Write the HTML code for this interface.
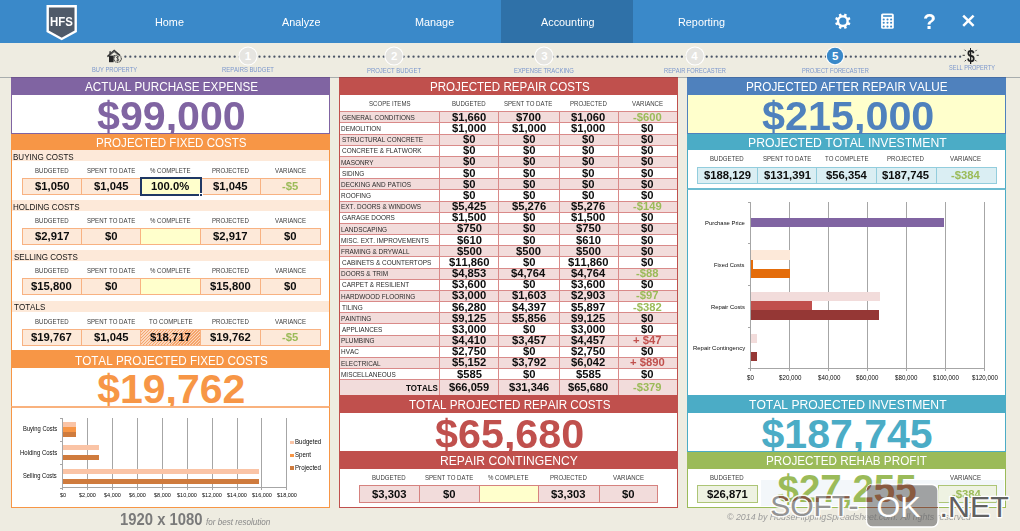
<!DOCTYPE html>
<html lang="en"><head><meta charset="utf-8"><title>House Flipping Spreadsheet - Project Forecaster</title><style>
*{margin:0;padding:0;box-sizing:border-box}
html,body{width:1020px;height:531px;overflow:hidden}
body{background:#EEECE1;font-family:"Liberation Sans",sans-serif;position:relative}
.a{position:absolute}
.x{position:absolute;white-space:nowrap;font-kerning:none;transform-origin:0 0}
</style></head><body>

<div class="a" style="left:0px;top:0px;width:1020px;height:43px;background:#3A89C9"></div>
<div class="a" style="left:501px;top:0px;width:132px;height:43px;background:#2F71A8"></div>
<svg class="a" style="left:45px;top:4px" width="34" height="37" viewBox="0 0 34 37">
<path d="M2.7 2.3 H30.7 V27.3 L16.7 35 L2.7 27.3 Z" fill="#4F5A69" stroke="#fff" stroke-width="2.4" stroke-linejoin="miter"/></svg>
<div class="x" style="left:50.04px;top:15px;font-size:13.5px;line-height:13.5px;color:#fff;font-weight:bold;transform:scaleX(0.8448);">HFS</div>
<div class="x" style="left:154.55px;top:17px;font-size:11px;line-height:11px;color:#fff;transform:scaleX(0.9850);">Home</div>
<div class="x" style="left:282.46px;top:17px;font-size:11px;line-height:11px;color:#fff;transform:scaleX(0.9850);">Analyze</div>
<div class="x" style="left:414.92px;top:17px;font-size:11px;line-height:11px;color:#fff;transform:scaleX(0.9850);">Manage</div>
<div class="x" style="left:540.93px;top:17px;font-size:11px;line-height:11px;color:#fff;transform:scaleX(0.9850);">Accounting</div>
<div class="x" style="left:677.61px;top:17px;font-size:11px;line-height:11px;color:#fff;transform:scaleX(0.9850);">Reporting</div>
<svg class="a" style="left:833px;top:11px" width="20" height="20" viewBox="0 0 20 20"><path d="M9.80 4.20 L10.84 4.29 L11.64 2.52 L13.93 3.46 L13.24 5.29 L14.04 5.96 L14.71 6.76 L16.54 6.07 L17.48 8.36 L15.71 9.16 L15.80 10.20 L15.71 11.24 L17.48 12.04 L16.54 14.33 L14.71 13.64 L14.04 14.44 L13.24 15.11 L13.93 16.94 L11.64 17.88 L10.84 16.11 L9.80 16.20 L8.76 16.11 L7.96 17.88 L5.67 16.94 L6.36 15.11 L5.56 14.44 L4.89 13.64 L3.06 14.33 L2.12 12.04 L3.89 11.24 L3.80 10.20 L3.89 9.16 L2.12 8.36 L3.06 6.07 L4.89 6.76 L5.56 5.96 L6.36 5.29 L5.67 3.46 L7.96 2.52 L8.76 4.29 Z M13.40 10.2 A3.6 3.6 0 1 0 6.20 10.2 A3.6 3.6 0 1 0 13.40 10.2 Z" fill="#fff" fill-rule="evenodd"/></svg>
<svg class="a" style="left:881px;top:13px" width="13" height="16" viewBox="0 0 13 16"><rect x="0.1" y="0.4" width="12.7" height="15.4" rx="1.6" fill="#fff"/><rect x="2.1" y="2.2" width="8.8" height="1.6" fill="#3A89C9"/><circle cx="2.7" cy="6.5" r="1.05" fill="#3A89C9"/><circle cx="2.7" cy="9.8" r="1.05" fill="#3A89C9"/><circle cx="2.7" cy="13.5" r="1.05" fill="#3A89C9"/><circle cx="6.5" cy="6.5" r="1.05" fill="#3A89C9"/><circle cx="6.5" cy="9.8" r="1.05" fill="#3A89C9"/><circle cx="6.5" cy="13.5" r="1.05" fill="#3A89C9"/><circle cx="10.1" cy="6.5" r="1.05" fill="#3A89C9"/><circle cx="10.1" cy="9.8" r="1.05" fill="#3A89C9"/><circle cx="10.1" cy="13.5" r="1.05" fill="#3A89C9"/></svg>
<div class="x" style="left:923.02px;top:11px;font-size:22px;line-height:22px;color:#fff;font-weight:bold;transform:scaleX(0.9676);">?</div>
<svg class="a" style="left:961px;top:13px" width="15" height="15" viewBox="0 0 15 15"><path d="M2.2 2.6 L12.6 12.8 M12.6 2.6 L2.2 12.8" stroke="#fff" stroke-width="2.5"/></svg>
<svg class="a" style="left:0;top:0" width="1020" height="78"><g fill="#4A5466"><circle cx="125.35" cy="56.7" r="1.15"/><circle cx="130.32" cy="56.7" r="1.15"/><circle cx="135.29" cy="56.7" r="1.15"/><circle cx="140.26" cy="56.7" r="1.15"/><circle cx="145.23" cy="56.7" r="1.15"/><circle cx="150.19" cy="56.7" r="1.15"/><circle cx="155.16" cy="56.7" r="1.15"/><circle cx="160.13" cy="56.7" r="1.15"/><circle cx="165.10" cy="56.7" r="1.15"/><circle cx="170.07" cy="56.7" r="1.15"/><circle cx="175.04" cy="56.7" r="1.15"/><circle cx="180.01" cy="56.7" r="1.15"/><circle cx="184.98" cy="56.7" r="1.15"/><circle cx="189.95" cy="56.7" r="1.15"/><circle cx="194.92" cy="56.7" r="1.15"/><circle cx="199.88" cy="56.7" r="1.15"/><circle cx="204.85" cy="56.7" r="1.15"/><circle cx="209.82" cy="56.7" r="1.15"/><circle cx="214.79" cy="56.7" r="1.15"/><circle cx="219.76" cy="56.7" r="1.15"/><circle cx="224.73" cy="56.7" r="1.15"/><circle cx="229.70" cy="56.7" r="1.15"/><circle cx="234.67" cy="56.7" r="1.15"/><circle cx="239.64" cy="56.7" r="1.15"/><circle cx="244.61" cy="56.7" r="1.15"/><circle cx="249.57" cy="56.7" r="1.15"/><circle cx="254.54" cy="56.7" r="1.15"/><circle cx="259.51" cy="56.7" r="1.15"/><circle cx="264.48" cy="56.7" r="1.15"/><circle cx="269.45" cy="56.7" r="1.15"/><circle cx="274.42" cy="56.7" r="1.15"/><circle cx="279.39" cy="56.7" r="1.15"/><circle cx="284.36" cy="56.7" r="1.15"/><circle cx="289.33" cy="56.7" r="1.15"/><circle cx="294.30" cy="56.7" r="1.15"/><circle cx="299.26" cy="56.7" r="1.15"/><circle cx="304.23" cy="56.7" r="1.15"/><circle cx="309.20" cy="56.7" r="1.15"/><circle cx="314.17" cy="56.7" r="1.15"/><circle cx="319.14" cy="56.7" r="1.15"/><circle cx="324.11" cy="56.7" r="1.15"/><circle cx="329.08" cy="56.7" r="1.15"/><circle cx="334.05" cy="56.7" r="1.15"/><circle cx="339.02" cy="56.7" r="1.15"/><circle cx="343.99" cy="56.7" r="1.15"/><circle cx="348.95" cy="56.7" r="1.15"/><circle cx="353.92" cy="56.7" r="1.15"/><circle cx="358.89" cy="56.7" r="1.15"/><circle cx="363.86" cy="56.7" r="1.15"/><circle cx="368.83" cy="56.7" r="1.15"/><circle cx="373.80" cy="56.7" r="1.15"/><circle cx="378.77" cy="56.7" r="1.15"/><circle cx="383.74" cy="56.7" r="1.15"/><circle cx="388.71" cy="56.7" r="1.15"/><circle cx="393.68" cy="56.7" r="1.15"/><circle cx="398.64" cy="56.7" r="1.15"/><circle cx="403.61" cy="56.7" r="1.15"/><circle cx="408.58" cy="56.7" r="1.15"/><circle cx="413.55" cy="56.7" r="1.15"/><circle cx="418.52" cy="56.7" r="1.15"/><circle cx="423.49" cy="56.7" r="1.15"/><circle cx="428.46" cy="56.7" r="1.15"/><circle cx="433.43" cy="56.7" r="1.15"/><circle cx="438.40" cy="56.7" r="1.15"/><circle cx="443.37" cy="56.7" r="1.15"/><circle cx="448.33" cy="56.7" r="1.15"/><circle cx="453.30" cy="56.7" r="1.15"/><circle cx="458.27" cy="56.7" r="1.15"/><circle cx="463.24" cy="56.7" r="1.15"/><circle cx="468.21" cy="56.7" r="1.15"/><circle cx="473.18" cy="56.7" r="1.15"/><circle cx="478.15" cy="56.7" r="1.15"/><circle cx="483.12" cy="56.7" r="1.15"/><circle cx="488.09" cy="56.7" r="1.15"/><circle cx="493.06" cy="56.7" r="1.15"/><circle cx="498.02" cy="56.7" r="1.15"/><circle cx="502.99" cy="56.7" r="1.15"/><circle cx="507.96" cy="56.7" r="1.15"/><circle cx="512.93" cy="56.7" r="1.15"/><circle cx="517.90" cy="56.7" r="1.15"/><circle cx="522.87" cy="56.7" r="1.15"/><circle cx="527.84" cy="56.7" r="1.15"/><circle cx="532.81" cy="56.7" r="1.15"/><circle cx="537.78" cy="56.7" r="1.15"/><circle cx="542.75" cy="56.7" r="1.15"/><circle cx="547.71" cy="56.7" r="1.15"/><circle cx="552.68" cy="56.7" r="1.15"/><circle cx="557.65" cy="56.7" r="1.15"/><circle cx="562.62" cy="56.7" r="1.15"/><circle cx="567.59" cy="56.7" r="1.15"/><circle cx="572.56" cy="56.7" r="1.15"/><circle cx="577.53" cy="56.7" r="1.15"/><circle cx="582.50" cy="56.7" r="1.15"/><circle cx="587.47" cy="56.7" r="1.15"/><circle cx="592.44" cy="56.7" r="1.15"/><circle cx="597.41" cy="56.7" r="1.15"/><circle cx="602.37" cy="56.7" r="1.15"/><circle cx="607.34" cy="56.7" r="1.15"/><circle cx="612.31" cy="56.7" r="1.15"/><circle cx="617.28" cy="56.7" r="1.15"/><circle cx="622.25" cy="56.7" r="1.15"/><circle cx="627.22" cy="56.7" r="1.15"/><circle cx="632.19" cy="56.7" r="1.15"/><circle cx="637.16" cy="56.7" r="1.15"/><circle cx="642.13" cy="56.7" r="1.15"/><circle cx="647.10" cy="56.7" r="1.15"/><circle cx="652.06" cy="56.7" r="1.15"/><circle cx="657.03" cy="56.7" r="1.15"/><circle cx="662.00" cy="56.7" r="1.15"/><circle cx="666.97" cy="56.7" r="1.15"/><circle cx="671.94" cy="56.7" r="1.15"/><circle cx="676.91" cy="56.7" r="1.15"/><circle cx="681.88" cy="56.7" r="1.15"/><circle cx="686.85" cy="56.7" r="1.15"/><circle cx="691.82" cy="56.7" r="1.15"/><circle cx="696.79" cy="56.7" r="1.15"/><circle cx="701.75" cy="56.7" r="1.15"/><circle cx="706.72" cy="56.7" r="1.15"/><circle cx="711.69" cy="56.7" r="1.15"/><circle cx="716.66" cy="56.7" r="1.15"/><circle cx="721.63" cy="56.7" r="1.15"/><circle cx="726.60" cy="56.7" r="1.15"/><circle cx="731.57" cy="56.7" r="1.15"/><circle cx="736.54" cy="56.7" r="1.15"/><circle cx="741.51" cy="56.7" r="1.15"/><circle cx="746.48" cy="56.7" r="1.15"/><circle cx="751.44" cy="56.7" r="1.15"/><circle cx="756.41" cy="56.7" r="1.15"/><circle cx="761.38" cy="56.7" r="1.15"/><circle cx="766.35" cy="56.7" r="1.15"/><circle cx="771.32" cy="56.7" r="1.15"/><circle cx="776.29" cy="56.7" r="1.15"/><circle cx="781.26" cy="56.7" r="1.15"/><circle cx="786.23" cy="56.7" r="1.15"/><circle cx="791.20" cy="56.7" r="1.15"/><circle cx="796.17" cy="56.7" r="1.15"/><circle cx="801.13" cy="56.7" r="1.15"/><circle cx="806.10" cy="56.7" r="1.15"/><circle cx="811.07" cy="56.7" r="1.15"/><circle cx="816.04" cy="56.7" r="1.15"/><circle cx="821.01" cy="56.7" r="1.15"/><circle cx="825.98" cy="56.7" r="1.15"/><circle cx="830.95" cy="56.7" r="1.15"/><circle cx="835.92" cy="56.7" r="1.15"/><circle cx="840.89" cy="56.7" r="1.15"/><circle cx="845.86" cy="56.7" r="1.15"/><circle cx="850.82" cy="56.7" r="1.15"/><circle cx="855.79" cy="56.7" r="1.15"/><circle cx="860.76" cy="56.7" r="1.15"/><circle cx="865.73" cy="56.7" r="1.15"/><circle cx="870.70" cy="56.7" r="1.15"/><circle cx="875.67" cy="56.7" r="1.15"/><circle cx="880.64" cy="56.7" r="1.15"/><circle cx="885.61" cy="56.7" r="1.15"/><circle cx="890.58" cy="56.7" r="1.15"/><circle cx="895.55" cy="56.7" r="1.15"/><circle cx="900.51" cy="56.7" r="1.15"/><circle cx="905.48" cy="56.7" r="1.15"/><circle cx="910.45" cy="56.7" r="1.15"/><circle cx="915.42" cy="56.7" r="1.15"/><circle cx="920.39" cy="56.7" r="1.15"/><circle cx="925.36" cy="56.7" r="1.15"/><circle cx="930.33" cy="56.7" r="1.15"/><circle cx="935.30" cy="56.7" r="1.15"/><circle cx="940.27" cy="56.7" r="1.15"/><circle cx="945.24" cy="56.7" r="1.15"/><circle cx="950.20" cy="56.7" r="1.15"/><circle cx="955.17" cy="56.7" r="1.15"/><circle cx="960.14" cy="56.7" r="1.15"/></g></svg>
<svg class="a" style="left:106px;top:49px" width="17" height="15" viewBox="0 0 17 15">
<path d="M1.4 7.6 L8.2 1.6 L13.8 6.4" stroke="#333" stroke-width="1.5" fill="none"/>
<path d="M3.2 6.6 L8.2 2.4 L10.5 4.4" stroke="#555" stroke-width="1.2" fill="none"/>
<rect x="3.4" y="2.2" width="1.4" height="3" fill="#333"/>
<rect x="3" y="6.6" width="4.6" height="6.6" fill="#262626"/>
<rect x="7.6" y="6.2" width="1.6" height="5" fill="#444"/>
<circle cx="11.6" cy="9.6" r="3.7" fill="#EEECE1" stroke="#3c3c3c" stroke-width="1.1" stroke-dasharray="1.2 0.5"/>
<path d="M12.9 8 Q11.8 7.2 10.7 8 Q10.3 9.1 11.7 9.6 Q13.2 10.2 12.7 11.3 Q11.6 12 10.4 11.2 M11.7 6.8 V12.4" stroke="#333" stroke-width="0.8" fill="none"/>
</svg>
<svg class="a" style="left:238.20px;top:45.80px" width="20" height="20" viewBox="0 0 20 20"><circle cx="10" cy="10" r="9.6" fill="#fff"/><circle cx="10" cy="10" r="8.6" fill="#E6E5E1"/></svg>
<div class="x" style="left:244.80px;top:51px;font-size:11.5px;line-height:11.5px;color:#fff;font-weight:bold;">1</div>
<svg class="a" style="left:384.10px;top:45.80px" width="20" height="20" viewBox="0 0 20 20"><circle cx="10" cy="10" r="9.6" fill="#fff"/><circle cx="10" cy="10" r="8.6" fill="#E6E5E1"/></svg>
<div class="x" style="left:390.93px;top:51px;font-size:11.5px;line-height:11.5px;color:#fff;font-weight:bold;">2</div>
<svg class="a" style="left:534.40px;top:45.80px" width="20" height="20" viewBox="0 0 20 20"><circle cx="10" cy="10" r="9.6" fill="#fff"/><circle cx="10" cy="10" r="8.6" fill="#E6E5E1"/></svg>
<div class="x" style="left:541.28px;top:51px;font-size:11.5px;line-height:11.5px;color:#fff;font-weight:bold;">3</div>
<svg class="a" style="left:684.60px;top:45.80px" width="20" height="20" viewBox="0 0 20 20"><circle cx="10" cy="10" r="9.6" fill="#fff"/><circle cx="10" cy="10" r="8.6" fill="#E6E5E1"/></svg>
<div class="x" style="left:691.35px;top:51px;font-size:11.5px;line-height:11.5px;color:#fff;font-weight:bold;">4</div>
<svg class="a" style="left:825.30px;top:45.60px" width="20" height="20" viewBox="0 0 20 20"><circle cx="10" cy="10" r="9.2" fill="#fff"/><circle cx="10" cy="10" r="8.2" fill="#3A89C9"/></svg>
<div class="x" style="left:832.09px;top:51px;font-size:11.5px;line-height:11.5px;color:#fff;font-weight:bold;">5</div>
<svg class="a" style="left:958px;top:45px" width="26" height="22" viewBox="0 0 26 22"><g stroke="#222" stroke-width="0.9">
<line x1="4.6" y1="10.3" x2="6.9" y2="10.3"/><line x1="18.6" y1="10.3" x2="20.8" y2="10.3"/>
<line x1="6.5" y1="4.7" x2="7.9" y2="6.1"/><line x1="18.7" y1="4.9" x2="17.3" y2="6.3"/>
<line x1="6.7" y1="16.3" x2="8.1" y2="14.9"/><line x1="18.5" y1="16.3" x2="17.1" y2="14.9"/></g></svg>
<div class="x" style="left:966.62px;top:48px;font-size:17px;line-height:17px;color:#1e1e1e;font-weight:bold;transform:scaleX(0.8232);">$</div>
<div class="a" style="left:970px;top:48px;width:1.3px;height:15.5px;background:#1e1e1e"></div>
<div class="x" style="left:91.53px;top:66px;font-size:7px;line-height:7px;color:#7A96CC;transform:scaleX(0.8223);">BUY PROPERTY</div>
<div class="x" style="left:222.17px;top:66px;font-size:7px;line-height:7px;color:#7A96CC;transform:scaleX(0.8395);">REPAIRS BUDGET</div>
<div class="x" style="left:367.41px;top:67px;font-size:7px;line-height:7px;color:#7A96CC;transform:scaleX(0.8470);">PROJECT BUDGET</div>
<div class="x" style="left:513.72px;top:67px;font-size:7px;line-height:7px;color:#7A96CC;transform:scaleX(0.8418);">EXPENSE TRACKING</div>
<div class="x" style="left:664.33px;top:67px;font-size:7px;line-height:7px;color:#7A96CC;transform:scaleX(0.8166);">REPAIR FORECASTER</div>
<div class="x" style="left:801.94px;top:67px;font-size:7px;line-height:7px;color:#7A96CC;transform:scaleX(0.8093);">PROJECT FORECASTER</div>
<div class="x" style="left:949.25px;top:64px;font-size:7px;line-height:7px;color:#7A96CC;transform:scaleX(0.7985);">SELL PROPERTY</div>
<div class="a" style="left:0px;top:77px;width:1020px;height:1px;background:#A8ADAD"></div>
<div class="a" style="left:11px;top:77px;width:319px;height:18px;background:#8064A2"></div>
<div class="x" style="left:84.68px;top:81px;font-size:12.5px;line-height:12.5px;color:#fff;transform:scaleX(0.9370);">ACTUAL PURCHASE EXPENSE</div>
<div class="a" style="left:11px;top:95px;width:319px;height:39px;background:#fff;border:1px solid #8064A2;border-top:none"></div>
<div class="x" style="left:97.41px;top:96px;font-size:41px;line-height:41px;color:#8064A2;font-weight:bold;transform:scaleX(1.0035);">$99,000</div>
<div class="a" style="left:11px;top:134px;width:319px;height:16px;background:#F79646"></div>
<div class="x" style="left:95.85px;top:137px;font-size:12.5px;line-height:12.5px;color:#fff;transform:scaleX(0.9266);">PROJECTED FIXED COSTS</div>
<div class="a" style="left:11px;top:150px;width:319px;height:200px;background:#fff;border:1px solid #F79646;border-top:none;border-bottom:none"></div>
<div class="a" style="left:12px;top:150px;width:317px;height:11px;background:#FDE9D9"></div>
<div class="x" style="left:13.44px;top:152px;font-size:9.4px;line-height:9.4px;color:#151515;transform:scaleX(0.8570);">BUYING COSTS</div>
<div class="x" style="left:34.61px;top:167px;font-size:7.6px;line-height:7.6px;color:#3a3a3a;transform:scaleX(0.8000);">BUDGETED</div>
<div class="x" style="left:86.74px;top:167px;font-size:7.6px;line-height:7.6px;color:#3a3a3a;transform:scaleX(0.8000);">SPENT TO DATE</div>
<div class="x" style="left:150.20px;top:167px;font-size:7.6px;line-height:7.6px;color:#3a3a3a;transform:scaleX(0.8000);">% COMPLETE</div>
<div class="x" style="left:211.84px;top:167px;font-size:7.6px;line-height:7.6px;color:#3a3a3a;transform:scaleX(0.8000);">PROJECTED</div>
<div class="x" style="left:274.83px;top:167px;font-size:7.6px;line-height:7.6px;color:#3a3a3a;transform:scaleX(0.8000);">VARIANCE</div>
<div class="a" style="left:22px;top:178px;width:60px;height:17px;background:#FDE9D9;border:1px solid #F8B282"></div>
<div class="a" style="left:81px;top:178px;width:60px;height:17px;background:#FDE9D9;border:1px solid #F8B282"></div>
<div class="a" style="left:140px;top:178px;width:61px;height:17px;background:#FFFFCC;border:1px solid #F8B282"></div>
<div class="a" style="left:200px;top:178px;width:61px;height:17px;background:#FDE9D9;border:1px solid #F8B282"></div>
<div class="a" style="left:260px;top:178px;width:61px;height:17px;background:#FDE9D9;border:1px solid #F8B282"></div>
<div class="x" style="left:34.50px;top:181px;font-size:10.8px;line-height:10.8px;color:#0d0d0d;font-weight:bold;transform:scaleX(1.0450);">$1,050</div>
<div class="x" style="left:93.72px;top:181px;font-size:10.8px;line-height:10.8px;color:#0d0d0d;font-weight:bold;transform:scaleX(1.0450);">$1,045</div>
<div class="x" style="left:151.10px;top:181px;font-size:10.8px;line-height:10.8px;color:#0d0d0d;font-weight:bold;transform:scaleX(1.0450);">100.0%</div>
<div class="x" style="left:213.17px;top:181px;font-size:10.8px;line-height:10.8px;color:#0d0d0d;font-weight:bold;transform:scaleX(1.0450);">$1,045</div>
<div class="x" style="left:282.03px;top:181px;font-size:10.8px;line-height:10.8px;color:#9BBB59;font-weight:bold;transform:scaleX(1.0450);">-$5</div>
<div class="a" style="left:12px;top:200px;width:317px;height:11px;background:#FDE9D9"></div>
<div class="x" style="left:13.44px;top:202px;font-size:9.4px;line-height:9.4px;color:#151515;transform:scaleX(0.8570);">HOLDING COSTS</div>
<div class="x" style="left:34.61px;top:217px;font-size:7.6px;line-height:7.6px;color:#3a3a3a;transform:scaleX(0.8000);">BUDGETED</div>
<div class="x" style="left:86.74px;top:217px;font-size:7.6px;line-height:7.6px;color:#3a3a3a;transform:scaleX(0.8000);">SPENT TO DATE</div>
<div class="x" style="left:150.20px;top:217px;font-size:7.6px;line-height:7.6px;color:#3a3a3a;transform:scaleX(0.8000);">% COMPLETE</div>
<div class="x" style="left:211.84px;top:217px;font-size:7.6px;line-height:7.6px;color:#3a3a3a;transform:scaleX(0.8000);">PROJECTED</div>
<div class="x" style="left:274.83px;top:217px;font-size:7.6px;line-height:7.6px;color:#3a3a3a;transform:scaleX(0.8000);">VARIANCE</div>
<div class="a" style="left:22px;top:228px;width:60px;height:17px;background:#FDE9D9;border:1px solid #F8B282"></div>
<div class="a" style="left:81px;top:228px;width:60px;height:17px;background:#FDE9D9;border:1px solid #F8B282"></div>
<div class="a" style="left:140px;top:228px;width:61px;height:17px;background:#FFFFCC;border:1px solid #F8B282"></div>
<div class="a" style="left:200px;top:228px;width:61px;height:17px;background:#FDE9D9;border:1px solid #F8B282"></div>
<div class="a" style="left:260px;top:228px;width:61px;height:17px;background:#FDE9D9;border:1px solid #F8B282"></div>
<div class="x" style="left:34.51px;top:231px;font-size:10.8px;line-height:10.8px;color:#0d0d0d;font-weight:bold;transform:scaleX(1.0450);">$2,917</div>
<div class="x" style="left:104.78px;top:231px;font-size:10.8px;line-height:10.8px;color:#0d0d0d;font-weight:bold;transform:scaleX(1.0450);">$0</div>
<div class="x" style="left:213.26px;top:231px;font-size:10.8px;line-height:10.8px;color:#0d0d0d;font-weight:bold;transform:scaleX(1.0450);">$2,917</div>
<div class="x" style="left:284.13px;top:231px;font-size:10.8px;line-height:10.8px;color:#0d0d0d;font-weight:bold;transform:scaleX(1.0450);">$0</div>
<div class="a" style="left:12px;top:250px;width:317px;height:11px;background:#FDE9D9"></div>
<div class="x" style="left:13.73px;top:252px;font-size:9.4px;line-height:9.4px;color:#151515;transform:scaleX(0.8570);">SELLING COSTS</div>
<div class="x" style="left:34.61px;top:267px;font-size:7.6px;line-height:7.6px;color:#3a3a3a;transform:scaleX(0.8000);">BUDGETED</div>
<div class="x" style="left:86.74px;top:267px;font-size:7.6px;line-height:7.6px;color:#3a3a3a;transform:scaleX(0.8000);">SPENT TO DATE</div>
<div class="x" style="left:150.20px;top:267px;font-size:7.6px;line-height:7.6px;color:#3a3a3a;transform:scaleX(0.8000);">% COMPLETE</div>
<div class="x" style="left:211.84px;top:267px;font-size:7.6px;line-height:7.6px;color:#3a3a3a;transform:scaleX(0.8000);">PROJECTED</div>
<div class="x" style="left:274.83px;top:267px;font-size:7.6px;line-height:7.6px;color:#3a3a3a;transform:scaleX(0.8000);">VARIANCE</div>
<div class="a" style="left:22px;top:278px;width:60px;height:17px;background:#FDE9D9;border:1px solid #F8B282"></div>
<div class="a" style="left:81px;top:278px;width:60px;height:17px;background:#FDE9D9;border:1px solid #F8B282"></div>
<div class="a" style="left:140px;top:278px;width:61px;height:17px;background:#FFFFCC;border:1px solid #F8B282"></div>
<div class="a" style="left:200px;top:278px;width:61px;height:17px;background:#FDE9D9;border:1px solid #F8B282"></div>
<div class="a" style="left:260px;top:278px;width:61px;height:17px;background:#FDE9D9;border:1px solid #F8B282"></div>
<div class="x" style="left:31.36px;top:281px;font-size:10.8px;line-height:10.8px;color:#0d0d0d;font-weight:bold;transform:scaleX(1.0450);">$15,800</div>
<div class="x" style="left:104.78px;top:281px;font-size:10.8px;line-height:10.8px;color:#0d0d0d;font-weight:bold;transform:scaleX(1.0450);">$0</div>
<div class="x" style="left:210.11px;top:281px;font-size:10.8px;line-height:10.8px;color:#0d0d0d;font-weight:bold;transform:scaleX(1.0450);">$15,800</div>
<div class="x" style="left:284.13px;top:281px;font-size:10.8px;line-height:10.8px;color:#0d0d0d;font-weight:bold;transform:scaleX(1.0450);">$0</div>
<div class="a" style="left:12px;top:301px;width:317px;height:11px;background:#FDE9D9"></div>
<div class="x" style="left:13.92px;top:302px;font-size:9.4px;line-height:9.4px;color:#151515;transform:scaleX(0.8570);">TOTALS</div>
<div class="x" style="left:34.61px;top:318px;font-size:7.6px;line-height:7.6px;color:#3a3a3a;transform:scaleX(0.8000);">BUDGETED</div>
<div class="x" style="left:86.74px;top:318px;font-size:7.6px;line-height:7.6px;color:#3a3a3a;transform:scaleX(0.8000);">SPENT TO DATE</div>
<div class="x" style="left:148.72px;top:318px;font-size:7.6px;line-height:7.6px;color:#3a3a3a;transform:scaleX(0.8000);">TO COMPLETE</div>
<div class="x" style="left:211.84px;top:318px;font-size:7.6px;line-height:7.6px;color:#3a3a3a;transform:scaleX(0.8000);">PROJECTED</div>
<div class="x" style="left:274.83px;top:318px;font-size:7.6px;line-height:7.6px;color:#3a3a3a;transform:scaleX(0.8000);">VARIANCE</div>
<div class="a" style="left:22px;top:329px;width:60px;height:17px;background:#FDE9D9;border:1px solid #F8B282"></div>
<div class="a" style="left:81px;top:329px;width:60px;height:17px;background:#FDE9D9;border:1px solid #F8B282"></div>
<div class="a" style="left:140px;top:329px;width:61px;height:17px;background:repeating-linear-gradient(-45deg,#F5A56C 0 0.9px,#FBD8BF 0.9px 2.1px);border:1px solid #F8B282"></div>
<div class="a" style="left:200px;top:329px;width:61px;height:17px;background:#FDE9D9;border:1px solid #F8B282"></div>
<div class="a" style="left:260px;top:329px;width:61px;height:17px;background:#FDE9D9;border:1px solid #F8B282"></div>
<div class="x" style="left:31.38px;top:332px;font-size:10.8px;line-height:10.8px;color:#0d0d0d;font-weight:bold;transform:scaleX(1.0450);">$19,767</div>
<div class="x" style="left:93.72px;top:332px;font-size:10.8px;line-height:10.8px;color:#0d0d0d;font-weight:bold;transform:scaleX(1.0450);">$1,045</div>
<div class="x" style="left:150.23px;top:332px;font-size:10.8px;line-height:10.8px;color:#0d0d0d;font-weight:bold;transform:scaleX(1.0450);">$18,717</div>
<div class="x" style="left:210.10px;top:332px;font-size:10.8px;line-height:10.8px;color:#0d0d0d;font-weight:bold;transform:scaleX(1.0450);">$19,762</div>
<div class="x" style="left:282.03px;top:332px;font-size:10.8px;line-height:10.8px;color:#9BBB59;font-weight:bold;transform:scaleX(1.0450);">-$5</div>
<div class="a" style="left:140px;top:177px;width:62px;height:19px;border:2px solid #1F3864"></div>
<div class="a" style="left:199px;top:193px;width:4px;height:4px;background:#1F3864;border:1px solid #fff"></div>
<div class="a" style="left:11px;top:350px;width:319px;height:18px;background:#F79646"></div>
<div class="x" style="left:74.84px;top:355px;font-size:12.5px;line-height:12.5px;color:#fff;transform:scaleX(0.9347);">TOTAL PROJECTED FIXED COSTS</div>
<div class="a" style="left:11px;top:368px;width:319px;height:40px;background:#fff;border:1px solid #F79646;border-top:none"></div>
<div class="x" style="left:97.21px;top:369px;font-size:41px;line-height:41px;color:#F79646;font-weight:bold;">$19,762</div>
<div class="a" style="left:11px;top:406px;width:319px;height:102px;background:#fff;border:1px solid #F79646;border-top:2px solid #F9B27E"></div>
<div class="a" style="left:339px;top:77px;width:339px;height:18px;background:#C0504D"></div>
<div class="x" style="left:430.25px;top:81px;font-size:12.5px;line-height:12.5px;color:#fff;transform:scaleX(0.9271);">PROJECTED REPAIR COSTS</div>
<div class="a" style="left:339px;top:95px;width:339px;height:300px;background:#fff;border:1px solid #C0504D;border-top:none;border-bottom:none"></div>
<div class="x" style="left:368.97px;top:100px;font-size:7.6px;line-height:7.6px;color:#3a3a3a;transform:scaleX(0.8000);">SCOPE ITEMS</div>
<div class="x" style="left:452.01px;top:100px;font-size:7.6px;line-height:7.6px;color:#3a3a3a;transform:scaleX(0.8000);">BUDGETED</div>
<div class="x" style="left:504.44px;top:100px;font-size:7.6px;line-height:7.6px;color:#3a3a3a;transform:scaleX(0.8000);">SPENT TO DATE</div>
<div class="x" style="left:569.84px;top:100px;font-size:7.6px;line-height:7.6px;color:#3a3a3a;transform:scaleX(0.8000);">PROJECTED</div>
<div class="x" style="left:632.08px;top:100px;font-size:7.6px;line-height:7.6px;color:#3a3a3a;transform:scaleX(0.8000);">VARIANCE</div>
<div class="a" style="left:340px;top:111px;width:337px;height:11px;background:#F2DCDB"></div>
<div class="a" style="left:340px;top:122px;width:337px;height:12px;background:#fff"></div>
<div class="a" style="left:340px;top:134px;width:337px;height:11px;background:#F2DCDB"></div>
<div class="a" style="left:340px;top:145px;width:337px;height:11px;background:#fff"></div>
<div class="a" style="left:340px;top:156px;width:337px;height:11px;background:#F2DCDB"></div>
<div class="a" style="left:340px;top:167px;width:337px;height:11px;background:#fff"></div>
<div class="a" style="left:340px;top:178px;width:337px;height:11px;background:#F2DCDB"></div>
<div class="a" style="left:340px;top:189px;width:337px;height:12px;background:#fff"></div>
<div class="a" style="left:340px;top:201px;width:337px;height:11px;background:#F2DCDB"></div>
<div class="a" style="left:340px;top:212px;width:337px;height:11px;background:#fff"></div>
<div class="a" style="left:340px;top:223px;width:337px;height:11px;background:#F2DCDB"></div>
<div class="a" style="left:340px;top:234px;width:337px;height:11px;background:#fff"></div>
<div class="a" style="left:340px;top:245px;width:337px;height:11px;background:#F2DCDB"></div>
<div class="a" style="left:340px;top:256px;width:337px;height:12px;background:#fff"></div>
<div class="a" style="left:340px;top:268px;width:337px;height:11px;background:#F2DCDB"></div>
<div class="a" style="left:340px;top:279px;width:337px;height:11px;background:#fff"></div>
<div class="a" style="left:340px;top:290px;width:337px;height:11px;background:#F2DCDB"></div>
<div class="a" style="left:340px;top:301px;width:337px;height:11px;background:#fff"></div>
<div class="a" style="left:340px;top:312px;width:337px;height:11px;background:#F2DCDB"></div>
<div class="a" style="left:340px;top:323px;width:337px;height:12px;background:#fff"></div>
<div class="a" style="left:340px;top:335px;width:337px;height:11px;background:#F2DCDB"></div>
<div class="a" style="left:340px;top:346px;width:337px;height:11px;background:#fff"></div>
<div class="a" style="left:340px;top:357px;width:337px;height:11px;background:#F2DCDB"></div>
<div class="a" style="left:340px;top:368px;width:337px;height:11px;background:#fff"></div>
<div class="a" style="left:340px;top:111px;width:337px;height:1px;background:#D98A89"></div>
<div class="a" style="left:340px;top:122px;width:337px;height:1px;background:#D98A89"></div>
<div class="a" style="left:340px;top:134px;width:337px;height:1px;background:#D98A89"></div>
<div class="a" style="left:340px;top:145px;width:337px;height:1px;background:#D98A89"></div>
<div class="a" style="left:340px;top:156px;width:337px;height:1px;background:#D98A89"></div>
<div class="a" style="left:340px;top:167px;width:337px;height:1px;background:#D98A89"></div>
<div class="a" style="left:340px;top:178px;width:337px;height:1px;background:#D98A89"></div>
<div class="a" style="left:340px;top:189px;width:337px;height:1px;background:#D98A89"></div>
<div class="a" style="left:340px;top:201px;width:337px;height:1px;background:#D98A89"></div>
<div class="a" style="left:340px;top:212px;width:337px;height:1px;background:#D98A89"></div>
<div class="a" style="left:340px;top:223px;width:337px;height:1px;background:#D98A89"></div>
<div class="a" style="left:340px;top:234px;width:337px;height:1px;background:#D98A89"></div>
<div class="a" style="left:340px;top:245px;width:337px;height:1px;background:#D98A89"></div>
<div class="a" style="left:340px;top:256px;width:337px;height:1px;background:#D98A89"></div>
<div class="a" style="left:340px;top:268px;width:337px;height:1px;background:#D98A89"></div>
<div class="a" style="left:340px;top:279px;width:337px;height:1px;background:#D98A89"></div>
<div class="a" style="left:340px;top:290px;width:337px;height:1px;background:#D98A89"></div>
<div class="a" style="left:340px;top:301px;width:337px;height:1px;background:#D98A89"></div>
<div class="a" style="left:340px;top:312px;width:337px;height:1px;background:#D98A89"></div>
<div class="a" style="left:340px;top:323px;width:337px;height:1px;background:#D98A89"></div>
<div class="a" style="left:340px;top:335px;width:337px;height:1px;background:#D98A89"></div>
<div class="a" style="left:340px;top:346px;width:337px;height:1px;background:#D98A89"></div>
<div class="a" style="left:340px;top:357px;width:337px;height:1px;background:#D98A89"></div>
<div class="a" style="left:340px;top:368px;width:337px;height:1px;background:#D98A89"></div>
<div class="a" style="left:340px;top:379px;width:337px;height:1px;background:#D98A89"></div>
<div class="a" style="left:439px;top:111px;width:1px;height:284px;background:#D98A89"></div>
<div class="a" style="left:498px;top:111px;width:1px;height:284px;background:#D98A89"></div>
<div class="a" style="left:559px;top:111px;width:1px;height:284px;background:#D98A89"></div>
<div class="a" style="left:618px;top:111px;width:1px;height:284px;background:#D98A89"></div>
<div class="x" style="left:341.58px;top:114px;font-size:7.4px;line-height:7.4px;color:#2a2a2a;transform:scaleX(0.8700);">GENERAL CONDITIONS</div>
<div class="x" style="left:451.97px;top:112px;font-size:10.6px;line-height:10.6px;color:#0d0d0d;font-weight:bold;transform:scaleX(1.0600);">$1,660</div>
<div class="x" style="left:516.26px;top:112px;font-size:10.6px;line-height:10.6px;color:#0d0d0d;font-weight:bold;transform:scaleX(1.0600);">$700</div>
<div class="x" style="left:571.32px;top:112px;font-size:10.6px;line-height:10.6px;color:#0d0d0d;font-weight:bold;transform:scaleX(1.0600);">$1,060</div>
<div class="x" style="left:633.14px;top:112px;font-size:10.6px;line-height:10.6px;color:#9BBB59;font-weight:bold;transform:scaleX(1.0600);">-$600</div>
<div class="x" style="left:341.37px;top:125px;font-size:7.4px;line-height:7.4px;color:#2a2a2a;transform:scaleX(0.8700);">DEMOLITION</div>
<div class="x" style="left:451.97px;top:123px;font-size:10.6px;line-height:10.6px;color:#0d0d0d;font-weight:bold;transform:scaleX(1.0600);">$1,000</div>
<div class="x" style="left:511.57px;top:123px;font-size:10.6px;line-height:10.6px;color:#0d0d0d;font-weight:bold;transform:scaleX(1.0600);">$1,000</div>
<div class="x" style="left:571.32px;top:123px;font-size:10.6px;line-height:10.6px;color:#0d0d0d;font-weight:bold;transform:scaleX(1.0600);">$1,000</div>
<div class="x" style="left:641.41px;top:123px;font-size:10.6px;line-height:10.6px;color:#0d0d0d;font-weight:bold;transform:scaleX(1.0600);">$0</div>
<div class="x" style="left:341.61px;top:136px;font-size:7.4px;line-height:7.4px;color:#2a2a2a;transform:scaleX(0.8700);">STRUCTURAL CONCRETE</div>
<div class="x" style="left:462.91px;top:134px;font-size:10.6px;line-height:10.6px;color:#0d0d0d;font-weight:bold;transform:scaleX(1.0600);">$0</div>
<div class="x" style="left:522.51px;top:134px;font-size:10.6px;line-height:10.6px;color:#0d0d0d;font-weight:bold;transform:scaleX(1.0600);">$0</div>
<div class="x" style="left:582.26px;top:134px;font-size:10.6px;line-height:10.6px;color:#0d0d0d;font-weight:bold;transform:scaleX(1.0600);">$0</div>
<div class="x" style="left:641.41px;top:134px;font-size:10.6px;line-height:10.6px;color:#0d0d0d;font-weight:bold;transform:scaleX(1.0600);">$0</div>
<div class="x" style="left:341.57px;top:147px;font-size:7.4px;line-height:7.4px;color:#2a2a2a;transform:scaleX(0.8700);">CONCRETE &amp; FLATWORK</div>
<div class="x" style="left:462.91px;top:145px;font-size:10.6px;line-height:10.6px;color:#0d0d0d;font-weight:bold;transform:scaleX(1.0600);">$0</div>
<div class="x" style="left:522.51px;top:145px;font-size:10.6px;line-height:10.6px;color:#0d0d0d;font-weight:bold;transform:scaleX(1.0600);">$0</div>
<div class="x" style="left:582.26px;top:145px;font-size:10.6px;line-height:10.6px;color:#0d0d0d;font-weight:bold;transform:scaleX(1.0600);">$0</div>
<div class="x" style="left:641.41px;top:145px;font-size:10.6px;line-height:10.6px;color:#0d0d0d;font-weight:bold;transform:scaleX(1.0600);">$0</div>
<div class="x" style="left:341.37px;top:159px;font-size:7.4px;line-height:7.4px;color:#2a2a2a;transform:scaleX(0.8700);">MASONRY</div>
<div class="x" style="left:462.91px;top:156px;font-size:10.6px;line-height:10.6px;color:#0d0d0d;font-weight:bold;transform:scaleX(1.0600);">$0</div>
<div class="x" style="left:522.51px;top:156px;font-size:10.6px;line-height:10.6px;color:#0d0d0d;font-weight:bold;transform:scaleX(1.0600);">$0</div>
<div class="x" style="left:582.26px;top:156px;font-size:10.6px;line-height:10.6px;color:#0d0d0d;font-weight:bold;transform:scaleX(1.0600);">$0</div>
<div class="x" style="left:641.41px;top:156px;font-size:10.6px;line-height:10.6px;color:#0d0d0d;font-weight:bold;transform:scaleX(1.0600);">$0</div>
<div class="x" style="left:341.61px;top:170px;font-size:7.4px;line-height:7.4px;color:#2a2a2a;transform:scaleX(0.8700);">SIDING</div>
<div class="x" style="left:462.91px;top:168px;font-size:10.6px;line-height:10.6px;color:#0d0d0d;font-weight:bold;transform:scaleX(1.0600);">$0</div>
<div class="x" style="left:522.51px;top:168px;font-size:10.6px;line-height:10.6px;color:#0d0d0d;font-weight:bold;transform:scaleX(1.0600);">$0</div>
<div class="x" style="left:582.26px;top:168px;font-size:10.6px;line-height:10.6px;color:#0d0d0d;font-weight:bold;transform:scaleX(1.0600);">$0</div>
<div class="x" style="left:641.41px;top:168px;font-size:10.6px;line-height:10.6px;color:#0d0d0d;font-weight:bold;transform:scaleX(1.0600);">$0</div>
<div class="x" style="left:341.37px;top:181px;font-size:7.4px;line-height:7.4px;color:#2a2a2a;transform:scaleX(0.8700);">DECKING AND PATIOS</div>
<div class="x" style="left:462.91px;top:179px;font-size:10.6px;line-height:10.6px;color:#0d0d0d;font-weight:bold;transform:scaleX(1.0600);">$0</div>
<div class="x" style="left:522.51px;top:179px;font-size:10.6px;line-height:10.6px;color:#0d0d0d;font-weight:bold;transform:scaleX(1.0600);">$0</div>
<div class="x" style="left:582.26px;top:179px;font-size:10.6px;line-height:10.6px;color:#0d0d0d;font-weight:bold;transform:scaleX(1.0600);">$0</div>
<div class="x" style="left:641.41px;top:179px;font-size:10.6px;line-height:10.6px;color:#0d0d0d;font-weight:bold;transform:scaleX(1.0600);">$0</div>
<div class="x" style="left:341.37px;top:192px;font-size:7.4px;line-height:7.4px;color:#2a2a2a;transform:scaleX(0.8700);">ROOFING</div>
<div class="x" style="left:462.91px;top:190px;font-size:10.6px;line-height:10.6px;color:#0d0d0d;font-weight:bold;transform:scaleX(1.0600);">$0</div>
<div class="x" style="left:522.51px;top:190px;font-size:10.6px;line-height:10.6px;color:#0d0d0d;font-weight:bold;transform:scaleX(1.0600);">$0</div>
<div class="x" style="left:582.26px;top:190px;font-size:10.6px;line-height:10.6px;color:#0d0d0d;font-weight:bold;transform:scaleX(1.0600);">$0</div>
<div class="x" style="left:641.41px;top:190px;font-size:10.6px;line-height:10.6px;color:#0d0d0d;font-weight:bold;transform:scaleX(1.0600);">$0</div>
<div class="x" style="left:341.37px;top:203px;font-size:7.4px;line-height:7.4px;color:#2a2a2a;transform:scaleX(0.8700);">EXT. DOORS &amp; WINDOWS</div>
<div class="x" style="left:451.90px;top:201px;font-size:10.6px;line-height:10.6px;color:#0d0d0d;font-weight:bold;transform:scaleX(1.0600);">$5,425</div>
<div class="x" style="left:511.55px;top:201px;font-size:10.6px;line-height:10.6px;color:#0d0d0d;font-weight:bold;transform:scaleX(1.0600);">$5,276</div>
<div class="x" style="left:571.30px;top:201px;font-size:10.6px;line-height:10.6px;color:#0d0d0d;font-weight:bold;transform:scaleX(1.0600);">$5,276</div>
<div class="x" style="left:633.12px;top:201px;font-size:10.6px;line-height:10.6px;color:#9BBB59;font-weight:bold;transform:scaleX(1.0600);">-$149</div>
<div class="x" style="left:341.58px;top:214px;font-size:7.4px;line-height:7.4px;color:#2a2a2a;transform:scaleX(0.8700);">GARAGE DOORS</div>
<div class="x" style="left:451.97px;top:212px;font-size:10.6px;line-height:10.6px;color:#0d0d0d;font-weight:bold;transform:scaleX(1.0600);">$1,500</div>
<div class="x" style="left:522.51px;top:212px;font-size:10.6px;line-height:10.6px;color:#0d0d0d;font-weight:bold;transform:scaleX(1.0600);">$0</div>
<div class="x" style="left:571.32px;top:212px;font-size:10.6px;line-height:10.6px;color:#0d0d0d;font-weight:bold;transform:scaleX(1.0600);">$1,500</div>
<div class="x" style="left:641.41px;top:212px;font-size:10.6px;line-height:10.6px;color:#0d0d0d;font-weight:bold;transform:scaleX(1.0600);">$0</div>
<div class="x" style="left:341.37px;top:226px;font-size:7.4px;line-height:7.4px;color:#2a2a2a;transform:scaleX(0.8700);">LANDSCAPING</div>
<div class="x" style="left:456.66px;top:223px;font-size:10.6px;line-height:10.6px;color:#0d0d0d;font-weight:bold;transform:scaleX(1.0600);">$750</div>
<div class="x" style="left:522.51px;top:223px;font-size:10.6px;line-height:10.6px;color:#0d0d0d;font-weight:bold;transform:scaleX(1.0600);">$0</div>
<div class="x" style="left:576.01px;top:223px;font-size:10.6px;line-height:10.6px;color:#0d0d0d;font-weight:bold;transform:scaleX(1.0600);">$750</div>
<div class="x" style="left:641.41px;top:223px;font-size:10.6px;line-height:10.6px;color:#0d0d0d;font-weight:bold;transform:scaleX(1.0600);">$0</div>
<div class="x" style="left:341.37px;top:237px;font-size:7.4px;line-height:7.4px;color:#2a2a2a;transform:scaleX(0.8700);">MISC. EXT. IMPROVEMENTS</div>
<div class="x" style="left:456.66px;top:235px;font-size:10.6px;line-height:10.6px;color:#0d0d0d;font-weight:bold;transform:scaleX(1.0600);">$610</div>
<div class="x" style="left:522.51px;top:235px;font-size:10.6px;line-height:10.6px;color:#0d0d0d;font-weight:bold;transform:scaleX(1.0600);">$0</div>
<div class="x" style="left:576.01px;top:235px;font-size:10.6px;line-height:10.6px;color:#0d0d0d;font-weight:bold;transform:scaleX(1.0600);">$610</div>
<div class="x" style="left:641.41px;top:235px;font-size:10.6px;line-height:10.6px;color:#0d0d0d;font-weight:bold;transform:scaleX(1.0600);">$0</div>
<div class="x" style="left:341.37px;top:248px;font-size:7.4px;line-height:7.4px;color:#2a2a2a;transform:scaleX(0.8700);">FRAMING &amp; DRYWALL</div>
<div class="x" style="left:456.66px;top:246px;font-size:10.6px;line-height:10.6px;color:#0d0d0d;font-weight:bold;transform:scaleX(1.0600);">$500</div>
<div class="x" style="left:516.26px;top:246px;font-size:10.6px;line-height:10.6px;color:#0d0d0d;font-weight:bold;transform:scaleX(1.0600);">$500</div>
<div class="x" style="left:576.01px;top:246px;font-size:10.6px;line-height:10.6px;color:#0d0d0d;font-weight:bold;transform:scaleX(1.0600);">$500</div>
<div class="x" style="left:641.41px;top:246px;font-size:10.6px;line-height:10.6px;color:#0d0d0d;font-weight:bold;transform:scaleX(1.0600);">$0</div>
<div class="x" style="left:341.57px;top:259px;font-size:7.4px;line-height:7.4px;color:#2a2a2a;transform:scaleX(0.8700);">CABINETS &amp; COUNTERTOPS</div>
<div class="x" style="left:448.85px;top:257px;font-size:10.6px;line-height:10.6px;color:#0d0d0d;font-weight:bold;transform:scaleX(1.0600);">$11,860</div>
<div class="x" style="left:522.51px;top:257px;font-size:10.6px;line-height:10.6px;color:#0d0d0d;font-weight:bold;transform:scaleX(1.0600);">$0</div>
<div class="x" style="left:568.20px;top:257px;font-size:10.6px;line-height:10.6px;color:#0d0d0d;font-weight:bold;transform:scaleX(1.0600);">$11,860</div>
<div class="x" style="left:641.41px;top:257px;font-size:10.6px;line-height:10.6px;color:#0d0d0d;font-weight:bold;transform:scaleX(1.0600);">$0</div>
<div class="x" style="left:341.37px;top:270px;font-size:7.4px;line-height:7.4px;color:#2a2a2a;transform:scaleX(0.8700);">DOORS &amp; TRIM</div>
<div class="x" style="left:451.95px;top:268px;font-size:10.6px;line-height:10.6px;color:#0d0d0d;font-weight:bold;transform:scaleX(1.0600);">$4,853</div>
<div class="x" style="left:511.37px;top:268px;font-size:10.6px;line-height:10.6px;color:#0d0d0d;font-weight:bold;transform:scaleX(1.0600);">$4,764</div>
<div class="x" style="left:571.12px;top:268px;font-size:10.6px;line-height:10.6px;color:#0d0d0d;font-weight:bold;transform:scaleX(1.0600);">$4,764</div>
<div class="x" style="left:636.21px;top:268px;font-size:10.6px;line-height:10.6px;color:#9BBB59;font-weight:bold;transform:scaleX(1.0600);">-$88</div>
<div class="x" style="left:341.57px;top:281px;font-size:7.4px;line-height:7.4px;color:#2a2a2a;transform:scaleX(0.8700);">CARPET &amp; RESILIENT</div>
<div class="x" style="left:451.97px;top:279px;font-size:10.6px;line-height:10.6px;color:#0d0d0d;font-weight:bold;transform:scaleX(1.0600);">$3,600</div>
<div class="x" style="left:522.51px;top:279px;font-size:10.6px;line-height:10.6px;color:#0d0d0d;font-weight:bold;transform:scaleX(1.0600);">$0</div>
<div class="x" style="left:571.32px;top:279px;font-size:10.6px;line-height:10.6px;color:#0d0d0d;font-weight:bold;transform:scaleX(1.0600);">$3,600</div>
<div class="x" style="left:641.41px;top:279px;font-size:10.6px;line-height:10.6px;color:#0d0d0d;font-weight:bold;transform:scaleX(1.0600);">$0</div>
<div class="x" style="left:341.37px;top:293px;font-size:7.4px;line-height:7.4px;color:#2a2a2a;transform:scaleX(0.8700);">HARDWOOD FLOORING</div>
<div class="x" style="left:451.97px;top:290px;font-size:10.6px;line-height:10.6px;color:#0d0d0d;font-weight:bold;transform:scaleX(1.0600);">$3,000</div>
<div class="x" style="left:511.55px;top:290px;font-size:10.6px;line-height:10.6px;color:#0d0d0d;font-weight:bold;transform:scaleX(1.0600);">$1,603</div>
<div class="x" style="left:571.30px;top:290px;font-size:10.6px;line-height:10.6px;color:#0d0d0d;font-weight:bold;transform:scaleX(1.0600);">$2,903</div>
<div class="x" style="left:636.28px;top:290px;font-size:10.6px;line-height:10.6px;color:#9BBB59;font-weight:bold;transform:scaleX(1.0600);">-$97</div>
<div class="x" style="left:341.76px;top:304px;font-size:7.4px;line-height:7.4px;color:#2a2a2a;transform:scaleX(0.8700);">TILING</div>
<div class="x" style="left:451.97px;top:302px;font-size:10.6px;line-height:10.6px;color:#0d0d0d;font-weight:bold;transform:scaleX(1.0600);">$6,280</div>
<div class="x" style="left:511.59px;top:302px;font-size:10.6px;line-height:10.6px;color:#0d0d0d;font-weight:bold;transform:scaleX(1.0600);">$4,397</div>
<div class="x" style="left:571.34px;top:302px;font-size:10.6px;line-height:10.6px;color:#0d0d0d;font-weight:bold;transform:scaleX(1.0600);">$5,897</div>
<div class="x" style="left:633.14px;top:302px;font-size:10.6px;line-height:10.6px;color:#9BBB59;font-weight:bold;transform:scaleX(1.0600);">-$382</div>
<div class="x" style="left:341.37px;top:315px;font-size:7.4px;line-height:7.4px;color:#2a2a2a;transform:scaleX(0.8700);">PAINTING</div>
<div class="x" style="left:451.90px;top:313px;font-size:10.6px;line-height:10.6px;color:#0d0d0d;font-weight:bold;transform:scaleX(1.0600);">$9,125</div>
<div class="x" style="left:511.55px;top:313px;font-size:10.6px;line-height:10.6px;color:#0d0d0d;font-weight:bold;transform:scaleX(1.0600);">$5,856</div>
<div class="x" style="left:571.25px;top:313px;font-size:10.6px;line-height:10.6px;color:#0d0d0d;font-weight:bold;transform:scaleX(1.0600);">$9,125</div>
<div class="x" style="left:641.41px;top:313px;font-size:10.6px;line-height:10.6px;color:#0d0d0d;font-weight:bold;transform:scaleX(1.0600);">$0</div>
<div class="x" style="left:341.89px;top:326px;font-size:7.4px;line-height:7.4px;color:#2a2a2a;transform:scaleX(0.8700);">APPLIANCES</div>
<div class="x" style="left:451.97px;top:324px;font-size:10.6px;line-height:10.6px;color:#0d0d0d;font-weight:bold;transform:scaleX(1.0600);">$3,000</div>
<div class="x" style="left:522.51px;top:324px;font-size:10.6px;line-height:10.6px;color:#0d0d0d;font-weight:bold;transform:scaleX(1.0600);">$0</div>
<div class="x" style="left:571.32px;top:324px;font-size:10.6px;line-height:10.6px;color:#0d0d0d;font-weight:bold;transform:scaleX(1.0600);">$3,000</div>
<div class="x" style="left:641.41px;top:324px;font-size:10.6px;line-height:10.6px;color:#0d0d0d;font-weight:bold;transform:scaleX(1.0600);">$0</div>
<div class="x" style="left:341.37px;top:337px;font-size:7.4px;line-height:7.4px;color:#2a2a2a;transform:scaleX(0.8700);">PLUMBING</div>
<div class="x" style="left:451.97px;top:335px;font-size:10.6px;line-height:10.6px;color:#0d0d0d;font-weight:bold;transform:scaleX(1.0600);">$4,410</div>
<div class="x" style="left:511.59px;top:335px;font-size:10.6px;line-height:10.6px;color:#0d0d0d;font-weight:bold;transform:scaleX(1.0600);">$3,457</div>
<div class="x" style="left:571.34px;top:335px;font-size:10.6px;line-height:10.6px;color:#0d0d0d;font-weight:bold;transform:scaleX(1.0600);">$4,457</div>
<div class="x" style="left:633.30px;top:335px;font-size:10.6px;line-height:10.6px;color:#C0504D;font-weight:bold;transform:scaleX(1.0600);">+ $47</div>
<div class="x" style="left:341.37px;top:348px;font-size:7.4px;line-height:7.4px;color:#2a2a2a;transform:scaleX(0.8700);">HVAC</div>
<div class="x" style="left:451.97px;top:346px;font-size:10.6px;line-height:10.6px;color:#0d0d0d;font-weight:bold;transform:scaleX(1.0600);">$2,750</div>
<div class="x" style="left:522.51px;top:346px;font-size:10.6px;line-height:10.6px;color:#0d0d0d;font-weight:bold;transform:scaleX(1.0600);">$0</div>
<div class="x" style="left:571.32px;top:346px;font-size:10.6px;line-height:10.6px;color:#0d0d0d;font-weight:bold;transform:scaleX(1.0600);">$2,750</div>
<div class="x" style="left:641.41px;top:346px;font-size:10.6px;line-height:10.6px;color:#0d0d0d;font-weight:bold;transform:scaleX(1.0600);">$0</div>
<div class="x" style="left:341.37px;top:360px;font-size:7.4px;line-height:7.4px;color:#2a2a2a;transform:scaleX(0.8700);">ELECTRICAL</div>
<div class="x" style="left:451.97px;top:357px;font-size:10.6px;line-height:10.6px;color:#0d0d0d;font-weight:bold;transform:scaleX(1.0600);">$5,152</div>
<div class="x" style="left:511.57px;top:357px;font-size:10.6px;line-height:10.6px;color:#0d0d0d;font-weight:bold;transform:scaleX(1.0600);">$3,792</div>
<div class="x" style="left:571.32px;top:357px;font-size:10.6px;line-height:10.6px;color:#0d0d0d;font-weight:bold;transform:scaleX(1.0600);">$6,042</div>
<div class="x" style="left:630.15px;top:357px;font-size:10.6px;line-height:10.6px;color:#C0504D;font-weight:bold;transform:scaleX(1.0600);">+ $890</div>
<div class="x" style="left:341.37px;top:371px;font-size:7.4px;line-height:7.4px;color:#2a2a2a;transform:scaleX(0.8700);">MISCELLANEOUS</div>
<div class="x" style="left:456.58px;top:369px;font-size:10.6px;line-height:10.6px;color:#0d0d0d;font-weight:bold;transform:scaleX(1.0600);">$585</div>
<div class="x" style="left:522.51px;top:369px;font-size:10.6px;line-height:10.6px;color:#0d0d0d;font-weight:bold;transform:scaleX(1.0600);">$0</div>
<div class="x" style="left:575.93px;top:369px;font-size:10.6px;line-height:10.6px;color:#0d0d0d;font-weight:bold;transform:scaleX(1.0600);">$585</div>
<div class="x" style="left:641.41px;top:369px;font-size:10.6px;line-height:10.6px;color:#0d0d0d;font-weight:bold;transform:scaleX(1.0600);">$0</div>
<div class="a" style="left:340px;top:380px;width:337px;height:15px;background:#F2DCDB"></div>
<div class="a" style="left:439px;top:379px;width:1px;height:16px;background:#D98A89"></div>
<div class="a" style="left:498px;top:379px;width:1px;height:16px;background:#D98A89"></div>
<div class="a" style="left:559px;top:379px;width:1px;height:16px;background:#D98A89"></div>
<div class="a" style="left:618px;top:379px;width:1px;height:16px;background:#D98A89"></div>
<div class="x" style="left:406.01px;top:384px;font-size:9.3px;line-height:9.3px;color:#0d0d0d;font-weight:bold;transform:scaleX(0.8550);">TOTALS</div>
<div class="x" style="left:449.03px;top:382px;font-size:10.8px;line-height:10.8px;color:#0d0d0d;font-weight:bold;transform:scaleX(1.0300);">$66,059</div>
<div class="x" style="left:508.62px;top:382px;font-size:10.8px;line-height:10.8px;color:#0d0d0d;font-weight:bold;transform:scaleX(1.0300);">$31,346</div>
<div class="x" style="left:568.40px;top:382px;font-size:10.8px;line-height:10.8px;color:#0d0d0d;font-weight:bold;transform:scaleX(1.0300);">$65,680</div>
<div class="x" style="left:633.26px;top:382px;font-size:10.8px;line-height:10.8px;color:#9BBB59;font-weight:bold;transform:scaleX(1.0300);">-$379</div>
<div class="a" style="left:339px;top:395px;width:339px;height:18px;background:#C0504D"></div>
<div class="x" style="left:408.74px;top:399px;font-size:12.5px;line-height:12.5px;color:#fff;transform:scaleX(0.9328);">TOTAL PROJECTED REPAIR COSTS</div>
<div class="a" style="left:339px;top:413px;width:339px;height:39px;background:#fff;border:1px solid #C0504D;border-top:none"></div>
<div class="x" style="left:434.96px;top:414px;font-size:41px;line-height:41px;color:#C0504D;font-weight:bold;transform:scaleX(1.0070);">$65,680</div>
<div class="a" style="left:339px;top:451px;width:339px;height:18px;background:#C0504D"></div>
<div class="x" style="left:440.01px;top:455px;font-size:12.5px;line-height:12.5px;color:#fff;transform:scaleX(0.9676);">REPAIR CONTINGENCY</div>
<div class="a" style="left:339px;top:469px;width:339px;height:39px;background:#fff;border:1px solid #C0504D;border-top:none"></div>
<div class="x" style="left:372.41px;top:474px;font-size:7.6px;line-height:7.6px;color:#3a3a3a;transform:scaleX(0.8000);">BUDGETED</div>
<div class="x" style="left:424.84px;top:474px;font-size:7.6px;line-height:7.6px;color:#3a3a3a;transform:scaleX(0.8000);">SPENT TO DATE</div>
<div class="x" style="left:488.25px;top:474px;font-size:7.6px;line-height:7.6px;color:#3a3a3a;transform:scaleX(0.8000);">% COMPLETE</div>
<div class="x" style="left:550.04px;top:474px;font-size:7.6px;line-height:7.6px;color:#3a3a3a;transform:scaleX(0.8000);">PROJECTED</div>
<div class="x" style="left:612.63px;top:474px;font-size:7.6px;line-height:7.6px;color:#3a3a3a;transform:scaleX(0.8000);">VARIANCE</div>
<div class="a" style="left:359px;top:485px;width:61px;height:18px;background:#F2DCDB;border:1px solid #D6827F"></div>
<div class="a" style="left:419px;top:485px;width:61px;height:18px;background:#F2DCDB;border:1px solid #D6827F"></div>
<div class="a" style="left:479px;top:485px;width:60px;height:18px;background:#FFFFCC;border:1px solid #D6827F"></div>
<div class="a" style="left:538px;top:485px;width:62px;height:18px;background:#F2DCDB;border:1px solid #D6827F"></div>
<div class="a" style="left:599px;top:485px;width:59px;height:18px;background:#F2DCDB;border:1px solid #D6827F"></div>
<div class="x" style="left:372.27px;top:489px;font-size:10.8px;line-height:10.8px;color:#0d0d0d;font-weight:bold;transform:scaleX(1.0450);">$3,303</div>
<div class="x" style="left:442.88px;top:489px;font-size:10.8px;line-height:10.8px;color:#0d0d0d;font-weight:bold;transform:scaleX(1.0450);">$0</div>
<div class="x" style="left:551.42px;top:489px;font-size:10.8px;line-height:10.8px;color:#0d0d0d;font-weight:bold;transform:scaleX(1.0450);">$3,303</div>
<div class="x" style="left:621.93px;top:489px;font-size:10.8px;line-height:10.8px;color:#0d0d0d;font-weight:bold;transform:scaleX(1.0450);">$0</div>
<div class="a" style="left:687px;top:77px;width:319px;height:18px;background:#4F81BD"></div>
<div class="x" style="left:745.94px;top:81px;font-size:12.5px;line-height:12.5px;color:#fff;transform:scaleX(0.9396);">PROJECTED AFTER REPAIR VALUE</div>
<div class="a" style="left:687px;top:95px;width:319px;height:39px;background:#FFFFCC;border:1px solid #4F81BD;border-top:none"></div>
<div class="x" style="left:761.56px;top:96px;font-size:41px;line-height:41px;color:#4F81BD;font-weight:bold;transform:scaleX(1.0078);">$215,000</div>
<div class="a" style="left:687px;top:134px;width:319px;height:16px;background:#4BACC6"></div>
<div class="x" style="left:747.60px;top:137px;font-size:12.5px;line-height:12.5px;color:#fff;transform:scaleX(0.9764);">PROJECTED TOTAL INVESTMENT</div>
<div class="a" style="left:687px;top:150px;width:319px;height:40px;background:#fff;border:1px solid #4BACC6;border-top:none;border-bottom:2px solid #6CBBD0"></div>
<div class="x" style="left:710.31px;top:155px;font-size:7.6px;line-height:7.6px;color:#3a3a3a;transform:scaleX(0.8000);">BUDGETED</div>
<div class="x" style="left:762.79px;top:155px;font-size:7.6px;line-height:7.6px;color:#3a3a3a;transform:scaleX(0.8000);">SPENT TO DATE</div>
<div class="x" style="left:824.67px;top:155px;font-size:7.6px;line-height:7.6px;color:#3a3a3a;transform:scaleX(0.8000);">TO COMPLETE</div>
<div class="x" style="left:887.39px;top:155px;font-size:7.6px;line-height:7.6px;color:#3a3a3a;transform:scaleX(0.8000);">PROJECTED</div>
<div class="x" style="left:950.23px;top:155px;font-size:7.6px;line-height:7.6px;color:#3a3a3a;transform:scaleX(0.8000);">VARIANCE</div>
<div class="a" style="left:697px;top:167px;width:61px;height:17px;background:#DAEEF3;border:1px solid #93CDDD"></div>
<div class="a" style="left:757px;top:167px;width:60px;height:17px;background:#DAEEF3;border:1px solid #93CDDD"></div>
<div class="a" style="left:816px;top:167px;width:61px;height:17px;background:#DAEEF3;border:1px solid #93CDDD"></div>
<div class="a" style="left:876px;top:167px;width:61px;height:17px;background:#DAEEF3;border:1px solid #93CDDD"></div>
<div class="a" style="left:936px;top:167px;width:61px;height:17px;background:#DAEEF3;border:1px solid #93CDDD"></div>
<div class="x" style="left:703.90px;top:170px;font-size:10.8px;line-height:10.8px;color:#0d0d0d;font-weight:bold;transform:scaleX(1.0450);">$188,129</div>
<div class="x" style="left:763.50px;top:170px;font-size:10.8px;line-height:10.8px;color:#0d0d0d;font-weight:bold;transform:scaleX(1.0450);">$131,391</div>
<div class="x" style="left:825.96px;top:170px;font-size:10.8px;line-height:10.8px;color:#0d0d0d;font-weight:bold;transform:scaleX(1.0450);">$56,354</div>
<div class="x" style="left:882.45px;top:170px;font-size:10.8px;line-height:10.8px;color:#0d0d0d;font-weight:bold;transform:scaleX(1.0450);">$187,745</div>
<div class="x" style="left:951.03px;top:170px;font-size:10.8px;line-height:10.8px;color:#9BBB59;font-weight:bold;transform:scaleX(1.0450);">-$384</div>
<div class="a" style="left:687px;top:190px;width:319px;height:206px;background:#fff;border:1px solid #4BACC6;border-top:none"></div>
<div class="a" style="left:687px;top:395px;width:319px;height:18px;background:#4BACC6"></div>
<div class="x" style="left:748.73px;top:399px;font-size:12.5px;line-height:12.5px;color:#fff;transform:scaleX(0.9708);">TOTAL PROJECTED INVESTMENT</div>
<div class="a" style="left:687px;top:413px;width:319px;height:39px;background:#fff;border:1px solid #4BACC6;border-top:none"></div>
<div class="x" style="left:761.56px;top:414px;font-size:41px;line-height:41px;color:#4BACC6;font-weight:bold;">$187,745</div>
<div class="a" style="left:687px;top:452px;width:319px;height:17px;background:#9BBB59"></div>
<div class="x" style="left:766.04px;top:455px;font-size:12.5px;line-height:12.5px;color:#fff;transform:scaleX(0.9375);">PROJECTED REHAB PROFIT</div>
<div class="a" style="left:687px;top:469px;width:319px;height:39px;background:#fff;border:1px solid #9BBB59;border-top:none"></div>
<div class="a" style="left:761px;top:480px;width:243px;height:26px;background:#F3F7FA"></div>
<div class="x" style="left:710.31px;top:474px;font-size:7.6px;line-height:7.6px;color:#3a3a3a;transform:scaleX(0.8000);">BUDGETED</div>
<div class="x" style="left:950.23px;top:474px;font-size:7.6px;line-height:7.6px;color:#3a3a3a;transform:scaleX(0.8000);">VARIANCE</div>
<div class="a" style="left:697px;top:485px;width:61px;height:18px;background:#EEF2E2;border:1px solid #ADC576"></div>
<div class="x" style="left:706.98px;top:489px;font-size:10.8px;line-height:10.8px;color:#0d0d0d;font-weight:bold;transform:scaleX(1.0450);">$26,871</div>
<div class="a" style="left:938px;top:485px;width:59px;height:18px;background:#EEF2E2;border:1px solid #ADC576"></div>
<div class="x" style="left:952.03px;top:489px;font-size:10.8px;line-height:10.8px;color:#9BBB59;font-weight:bold;transform:scaleX(1.0450);">-$384</div>
<div class="a" style="left:11px;top:77px;width:319px;height:1px;background:rgba(25,20,45,0.17)"></div>
<div class="a" style="left:339px;top:77px;width:339px;height:1px;background:rgba(25,20,45,0.17)"></div>
<div class="a" style="left:687px;top:77px;width:319px;height:1px;background:rgba(25,20,45,0.17)"></div>
<svg class="a" style="left:0;top:0" width="1020" height="531" viewBox="0 0 1020 531" shape-rendering="crispEdges"><line x1="87.5" y1="417.5" x2="87.5" y2="487.5" stroke="#A6A6A6"/><line x1="112.5" y1="417.5" x2="112.5" y2="487.5" stroke="#A6A6A6"/><line x1="137.5" y1="417.5" x2="137.5" y2="487.5" stroke="#A6A6A6"/><line x1="162.5" y1="417.5" x2="162.5" y2="487.5" stroke="#A6A6A6"/><line x1="187.5" y1="417.5" x2="187.5" y2="487.5" stroke="#A6A6A6"/><line x1="212.5" y1="417.5" x2="212.5" y2="487.5" stroke="#A6A6A6"/><line x1="237.5" y1="417.5" x2="237.5" y2="487.5" stroke="#A6A6A6"/><line x1="261.5" y1="417.5" x2="261.5" y2="487.5" stroke="#A6A6A6"/><line x1="286.5" y1="417.5" x2="286.5" y2="487.5" stroke="#A6A6A6"/><rect x="63.00" y="422.00" width="13.06" height="5" fill="#FAC4A6"/><rect x="63.00" y="427.00" width="12.99" height="5" fill="#F79646"/><rect x="63.00" y="432.00" width="12.99" height="5" fill="#CF7B3D"/><rect x="63.00" y="445.33" width="36.27" height="5" fill="#FAC4A6"/><rect x="63.00" y="455.33" width="36.27" height="5" fill="#CF7B3D"/><rect x="63.00" y="468.67" width="196.47" height="5" fill="#FAC4A6"/><rect x="63.00" y="478.67" width="196.47" height="5" fill="#CF7B3D"/><line x1="62.5" y1="417.5" x2="62.5" y2="487.5" stroke="#A6A6A6"/><line x1="62" y1="487.5" x2="287" y2="487.5" stroke="#A6A6A6"/><line x1="60" y1="418.5" x2="63" y2="418.5" stroke="#A6A6A6"/><line x1="60" y1="441.5" x2="63" y2="441.5" stroke="#A6A6A6"/><line x1="60" y1="464.5" x2="63" y2="464.5" stroke="#A6A6A6"/><line x1="60" y1="488.5" x2="63" y2="488.5" stroke="#A6A6A6"/><line x1="62.5" y1="487.5" x2="62.5" y2="489.5" stroke="#A6A6A6"/><line x1="87.5" y1="487.5" x2="87.5" y2="489.5" stroke="#A6A6A6"/><line x1="112.5" y1="487.5" x2="112.5" y2="489.5" stroke="#A6A6A6"/><line x1="137.5" y1="487.5" x2="137.5" y2="489.5" stroke="#A6A6A6"/><line x1="162.5" y1="487.5" x2="162.5" y2="489.5" stroke="#A6A6A6"/><line x1="187.5" y1="487.5" x2="187.5" y2="489.5" stroke="#A6A6A6"/><line x1="212.5" y1="487.5" x2="212.5" y2="489.5" stroke="#A6A6A6"/><line x1="237.5" y1="487.5" x2="237.5" y2="489.5" stroke="#A6A6A6"/><line x1="261.5" y1="487.5" x2="261.5" y2="489.5" stroke="#A6A6A6"/><line x1="286.5" y1="487.5" x2="286.5" y2="489.5" stroke="#A6A6A6"/><line x1="789.5" y1="201.5" x2="789.5" y2="368.5" stroke="#A6A6A6"/><line x1="828.5" y1="201.5" x2="828.5" y2="368.5" stroke="#A6A6A6"/><line x1="867.5" y1="201.5" x2="867.5" y2="368.5" stroke="#A6A6A6"/><line x1="906.5" y1="201.5" x2="906.5" y2="368.5" stroke="#A6A6A6"/><line x1="945.5" y1="201.5" x2="945.5" y2="368.5" stroke="#A6A6A6"/><line x1="984.5" y1="201.5" x2="984.5" y2="368.5" stroke="#A6A6A6"/><rect x="751.00" y="217.77" width="192.90" height="9.2" fill="#8064A2"/><rect x="751.00" y="250.32" width="38.52" height="9.2" fill="#FDE9D9"/><rect x="751.00" y="259.52" width="2.04" height="9.2" fill="#E46C0A"/><rect x="751.00" y="268.72" width="38.51" height="9.2" fill="#E46C0A"/><rect x="751.00" y="292.07" width="128.72" height="9.2" fill="#F2DCDB"/><rect x="751.00" y="301.27" width="61.08" height="9.2" fill="#C0504D"/><rect x="751.00" y="310.47" width="127.98" height="9.2" fill="#953735"/><rect x="751.00" y="333.82" width="6.44" height="9.2" fill="#F2DCDB"/><rect x="751.00" y="352.22" width="6.44" height="9.2" fill="#953735"/><line x1="750.5" y1="201.5" x2="750.5" y2="368.5" stroke="#A6A6A6"/><line x1="750" y1="368.5" x2="985" y2="368.5" stroke="#A6A6A6"/><line x1="748" y1="202.5" x2="751" y2="202.5" stroke="#A6A6A6"/><line x1="748" y1="243.5" x2="751" y2="243.5" stroke="#A6A6A6"/><line x1="748" y1="285.5" x2="751" y2="285.5" stroke="#A6A6A6"/><line x1="748" y1="327.5" x2="751" y2="327.5" stroke="#A6A6A6"/><line x1="748" y1="368.5" x2="751" y2="368.5" stroke="#A6A6A6"/><line x1="750.5" y1="368.5" x2="750.5" y2="370.5" stroke="#A6A6A6"/><line x1="789.5" y1="368.5" x2="789.5" y2="370.5" stroke="#A6A6A6"/><line x1="828.5" y1="368.5" x2="828.5" y2="370.5" stroke="#A6A6A6"/><line x1="867.5" y1="368.5" x2="867.5" y2="370.5" stroke="#A6A6A6"/><line x1="906.5" y1="368.5" x2="906.5" y2="370.5" stroke="#A6A6A6"/><line x1="945.5" y1="368.5" x2="945.5" y2="370.5" stroke="#A6A6A6"/><line x1="984.5" y1="368.5" x2="984.5" y2="370.5" stroke="#A6A6A6"/><rect x="290" y="440.6" width="3.6" height="3.4" fill="#FAC4A6"/><rect x="290" y="453.7" width="3.6" height="3.4" fill="#F79646"/><rect x="290" y="466.3" width="3.6" height="3.4" fill="#CF7B3D"/></svg>
<div class="x" style="left:22.52px;top:426px;font-size:6.6px;line-height:6.6px;color:#0a0a0a;transform:scaleX(0.8818);">Buying Costs</div>
<div class="x" style="left:19.61px;top:450px;font-size:6.6px;line-height:6.6px;color:#0a0a0a;transform:scaleX(0.9056);">Holding Costs</div>
<div class="x" style="left:23.04px;top:473px;font-size:6.6px;line-height:6.6px;color:#0a0a0a;transform:scaleX(0.8768);">Selling Costs</div>
<div class="x" style="left:59.81px;top:493px;font-size:5.8px;line-height:5.8px;color:#0a0a0a;transform:scaleX(0.9500);">$0</div>
<div class="x" style="left:79.32px;top:493px;font-size:5.8px;line-height:5.8px;color:#0a0a0a;transform:scaleX(0.9500);">$2,000</div>
<div class="x" style="left:104.19px;top:493px;font-size:5.8px;line-height:5.8px;color:#0a0a0a;transform:scaleX(0.9500);">$4,000</div>
<div class="x" style="left:129.06px;top:493px;font-size:5.8px;line-height:5.8px;color:#0a0a0a;transform:scaleX(0.9500);">$6,000</div>
<div class="x" style="left:153.93px;top:493px;font-size:5.8px;line-height:5.8px;color:#0a0a0a;transform:scaleX(0.9500);">$8,000</div>
<div class="x" style="left:177.27px;top:493px;font-size:5.8px;line-height:5.8px;color:#0a0a0a;transform:scaleX(0.9500);">$10,000</div>
<div class="x" style="left:202.14px;top:493px;font-size:5.8px;line-height:5.8px;color:#0a0a0a;transform:scaleX(0.9500);">$12,000</div>
<div class="x" style="left:227.01px;top:493px;font-size:5.8px;line-height:5.8px;color:#0a0a0a;transform:scaleX(0.9500);">$14,000</div>
<div class="x" style="left:251.88px;top:493px;font-size:5.8px;line-height:5.8px;color:#0a0a0a;transform:scaleX(0.9500);">$16,000</div>
<div class="x" style="left:276.75px;top:493px;font-size:5.8px;line-height:5.8px;color:#0a0a0a;transform:scaleX(0.9500);">$18,000</div>
<div class="x" style="left:295.20px;top:439px;font-size:6.6px;line-height:6.6px;color:#0a0a0a;transform:scaleX(0.9300);">Budgeted</div>
<div class="x" style="left:295.42px;top:452px;font-size:6.6px;line-height:6.6px;color:#0a0a0a;transform:scaleX(0.9300);">Spent</div>
<div class="x" style="left:295.20px;top:465px;font-size:6.6px;line-height:6.6px;color:#0a0a0a;transform:scaleX(0.9300);">Projected</div>
<div class="x" style="left:705.02px;top:220px;font-size:6.2px;line-height:6.2px;color:#0a0a0a;transform:scaleX(0.9502);">Purchase Price</div>
<div class="x" style="left:714.43px;top:262px;font-size:6.2px;line-height:6.2px;color:#0a0a0a;transform:scaleX(0.9313);">Fixed Costs</div>
<div class="x" style="left:710.92px;top:304px;font-size:6.2px;line-height:6.2px;color:#0a0a0a;transform:scaleX(0.9487);">Repair Costs</div>
<div class="x" style="left:692.51px;top:345px;font-size:6.2px;line-height:6.2px;color:#0a0a0a;transform:scaleX(0.9586);">Repair Contingency</div>
<div class="x" style="left:747.34px;top:375px;font-size:6.6px;line-height:6.6px;color:#0a0a0a;transform:scaleX(0.9393);">$0</div>
<div class="x" style="left:778.55px;top:375px;font-size:6.6px;line-height:6.6px;color:#0a0a0a;transform:scaleX(0.9393);">$20,000</div>
<div class="x" style="left:817.52px;top:375px;font-size:6.6px;line-height:6.6px;color:#0a0a0a;transform:scaleX(0.9393);">$40,000</div>
<div class="x" style="left:856.49px;top:375px;font-size:6.6px;line-height:6.6px;color:#0a0a0a;transform:scaleX(0.9393);">$60,000</div>
<div class="x" style="left:895.46px;top:375px;font-size:6.6px;line-height:6.6px;color:#0a0a0a;transform:scaleX(0.9393);">$80,000</div>
<div class="x" style="left:932.71px;top:375px;font-size:6.6px;line-height:6.6px;color:#0a0a0a;transform:scaleX(0.9393);">$100,000</div>
<div class="x" style="left:971.68px;top:375px;font-size:6.6px;line-height:6.6px;color:#0a0a0a;transform:scaleX(0.9393);">$120,000</div>
<div class="x" style="left:120.37px;top:511px;font-size:16.5px;line-height:16.5px;color:#7A7A7A;font-weight:bold;transform:scaleX(0.8996);">1920 x 1080</div>
<div class="x" style="left:205.73px;top:518px;font-size:9px;line-height:9px;color:#888888;font-style:italic;transform:scaleX(0.8980);">for best resolution</div>
<div class="x" style="left:726.73px;top:513px;font-size:8.5px;line-height:8.5px;color:#9B9B9B;font-style:italic;transform:scaleX(1.0387);">© 2014 by HouseFlippingSpreadsheet.com. All rights reserved</div>
<svg class="a" style="left:0;top:0" width="1020" height="531" viewBox="0 0 1020 531"><defs><clipPath id="cn"><text transform="translate(777.59,502) scale(0.9858,1)" font-family="Liberation Sans" font-size="39" font-weight="bold" >$27,255</text></clipPath><clipPath id="cr"><rect x="866.5" y="484.5" width="71.5" height="42.5" rx="6"/></clipPath></defs><text fill="#9BBB59" transform="translate(777.59,502) scale(0.9858,1)" font-family="Liberation Sans" font-size="39" font-weight="bold" >$27,255</text><rect x="866.5" y="484.5" width="71.5" height="42.5" rx="6" fill="rgba(105,105,105,0.6)" stroke="#fff" stroke-width="1.4"/><g clip-path="url(#cr)"><text fill="#8A5A40" transform="translate(777.59,502) scale(0.9858,1)" font-family="Liberation Sans" font-size="39" font-weight="bold" >$27,255</text><rect x="866" y="507" width="73" height="1" fill="#8A5A40"/></g><g stroke="#fff" stroke-width="3" stroke-linejoin="round" paint-order="stroke" fill="#939393" stroke-opacity="0.9"><text transform="translate(770.14,516) scale(1.0358,1)" font-family="Liberation Sans" font-size="29"  >SOFT-</text></g><g clip-path="url(#cn)" fill="#8A5A40"><text transform="translate(770.14,516) scale(1.0358,1)" font-family="Liberation Sans" font-size="29"  >SOFT-</text></g><g fill="#fff"><text transform="translate(876.55,516.6) scale(1.0547,1)" font-family="Liberation Sans" font-size="29"  >OK</text></g><g stroke="#fff" stroke-width="2.6" stroke-linejoin="round" paint-order="stroke" fill="#616161"><text transform="translate(939.62,517) scale(1.0487,1)" font-family="Liberation Sans" font-size="29"  >.NET</text></g></svg>
</body></html>
